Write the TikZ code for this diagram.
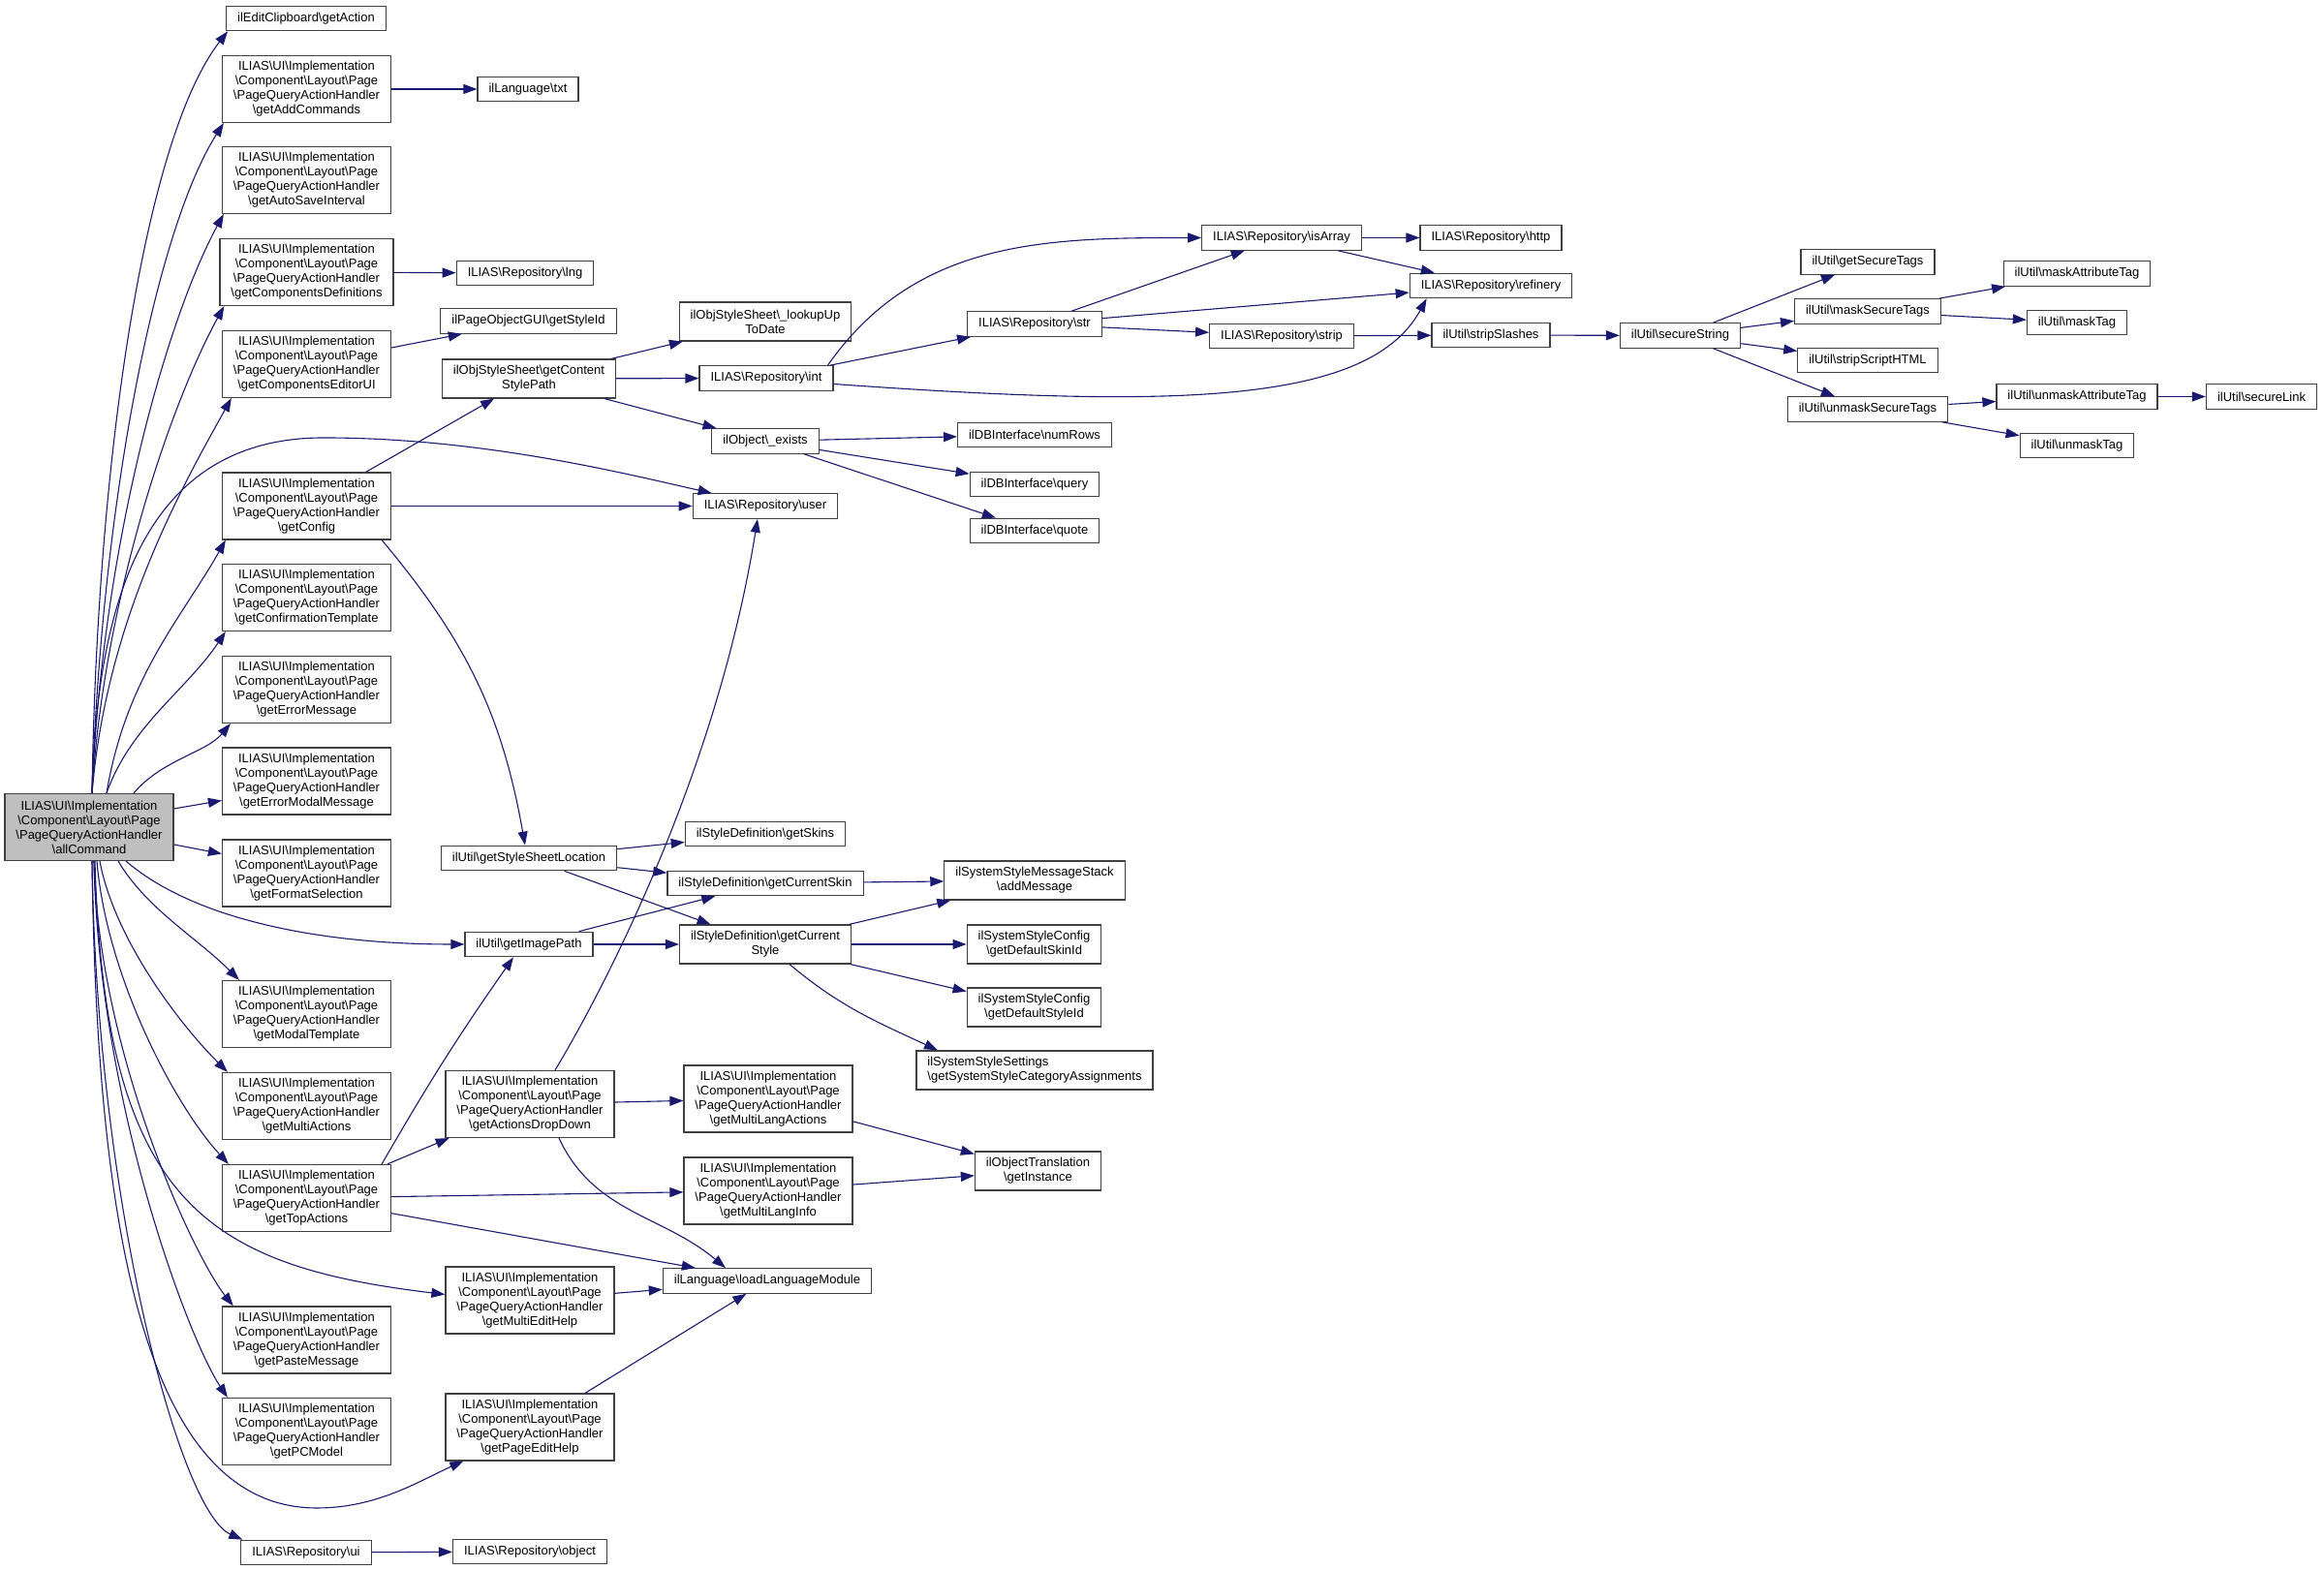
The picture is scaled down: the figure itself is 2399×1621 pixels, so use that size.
\documentclass[tikz,border=0pt]{standalone}
\usepackage{fontspec}
\usepackage{tikz}
\usetikzlibrary{arrows.meta}
\newfontfamily\graphfont{Liberation Sans}
\definecolor{edgeblue}{HTML}{191970}
\definecolor{boxline}{HTML}{404040}
\definecolor{rootfill}{HTML}{BFBFBF}
\newcommand{\bsl}{\textbackslash}
\newcommand{\pqah}[1]{ILIAS\bsl UI\bsl Implementation\\\bsl Component\bsl Layout\bsl Page\\\bsl PageQueryActionHandler\\\bsl #1}

\begin{document}
\begin{tikzpicture}[
  x=1pt,y=1pt,
  func/.style={draw=boxline,line width=1.2pt,fill=white,align=center,inner xsep=11.5pt,inner ysep=2pt,minimum height=25.5pt,font=\graphfont\fontsize{13}{15}\selectfont},
  func2/.style={func,minimum height=40pt},
  func4/.style={func,minimum height=69pt},
  rootfunc/.style={func4,fill=rootfill},
  call/.style={draw=edgeblue,line width=1.1pt,-{Triangle[length=14pt,width=10pt]}}
]
\path[use as bounding box,fill=white] (0,0) rectangle (2399,1621);

% caller
\node[rootfunc] (root) at (92,767) {\pqah{allCommand}};

% first column
\node[func] (getaction) at (316,1602) {ilEditClipboard\bsl getAction};
\node[func4] (addcmd) at (316.5,1529) {\pqah{getAddCommands}};
\node[func4] (autosave) at (316.5,1435) {\pqah{getAutoSaveInterval}};
\node[func4] (compdef) at (316.5,1340) {\pqah{getComponentsDefinitions}};
\node[func4] (compeditor) at (316.5,1245) {\pqah{getComponentsEditorUI}};
\node[func4] (getconfig) at (316.5,1098.5) {\pqah{getConfig}};
\node[func4] (confirm) at (316.5,1004) {\pqah{getConfirmationTemplate}};
\node[func4] (errmsg) at (316.5,909) {\pqah{getErrorMessage}};
\node[func4] (errmodal) at (316.5,814.5) {\pqah{getErrorModalMessage}};
\node[func4] (format) at (316.5,719.5) {\pqah{getFormatSelection}};
\node[func4] (modal) at (316.5,574) {\pqah{getModalTemplate}};
\node[func4] (multiact) at (316.5,479) {\pqah{getMultiActions}};
\node[func4] (topact) at (316.5,384) {\pqah{getTopActions}};
\node[func4] (paste) at (316.5,237.5) {\pqah{getPasteMessage}};
\node[func4] (pcmodel) at (316.5,143) {\pqah{getPCModel}};
\node[func] (repoui) at (316,18) {ILIAS\bsl Repository\bsl ui};

% second column
\node[func] (txt) at (545,1529) {ilLanguage\bsl txt};
\node[func] (lng) at (542,1339) {ILIAS\bsl Repository\bsl lng};
\node[func] (styleid) at (545.5,1289.5) {ilPageObjectGUI\bsl getStyleId};
\node[func2] (contentstyle) at (546,1230) {ilObjStyleSheet\bsl getContent\\StylePath};
\node[func] (stylesheetloc) at (546,735) {ilUtil\bsl getStyleSheetLocation};
\node[func] (imagepath) at (546,646) {ilUtil\bsl getImagePath};
\node[func4] (actionsdd) at (547,481) {\pqah{getActionsDropDown}};
\node[func4] (multiedit) at (547,278.5) {\pqah{getMultiEditHelp}};
\node[func4] (pageedit) at (547,147.5) {\pqah{getPageEditHelp}};
\node[func] (repoobject) at (547,19) {ILIAS\bsl Repository\bsl object};

% third column
\node[func2] (lookup) at (790,1289) {ilObjStyleSheet\bsl\_lookupUp\\ToDate};
\node[func] (repoint) at (791,1230.5) {ILIAS\bsl Repository\bsl int};
\node[func] (exists) at (790,1165.5) {ilObject\bsl\_exists};
\node[func] (repouser) at (790,1098.5) {ILIAS\bsl Repository\bsl user};
\node[func] (getskins) at (790,760) {ilStyleDefinition\bsl getSkins};
\node[func] (curskin) at (790,709) {ilStyleDefinition\bsl getCurrentSkin};
\node[func2] (curstyle) at (790,646) {ilStyleDefinition\bsl getCurrent\\Style};
\node[func4] (mlactions) at (793,486.5) {\pqah{getMultiLangActions}};
\node[func4] (mlinfo) at (793,391.5) {\pqah{getMultiLangInfo}};
\node[func] (loadlang) at (792,298.5) {ilLanguage\bsl loadLanguageModule};

% fourth column
\node[func] (repostr) at (1068,1286.5) {ILIAS\bsl Repository\bsl str};
\node[func] (numrows) at (1068,1172) {ilDBInterface\bsl numRows};
\node[func] (query) at (1068,1121) {ilDBInterface\bsl query};
\node[func] (quote) at (1068,1073) {ilDBInterface\bsl quote};
\node[func2] (addmsg) at (1068,712) {ilSystemStyleMessageStack\\\bsl addMessage};
\node[func2] (defskin) at (1067.5,646) {ilSystemStyleConfig\\\bsl getDefaultSkinId};
\node[func2] (defstyle) at (1067.5,581) {ilSystemStyleConfig\\\bsl getDefaultStyleId};
\node[func2,align=left] (catassign) at (1068,516) {ilSystemStyleSettings\\\bsl getSystemStyleCategoryAssignments};
\node[func2] (translation) at (1071.5,412) {ilObjectTranslation\\\bsl getInstance};

% right part
\node[func] (isarray) at (1323,1375.5) {ILIAS\bsl Repository\bsl isArray};
\node[func] (strip) at (1323,1274) {ILIAS\bsl Repository\bsl strip};
\node[func] (http) at (1539,1375.5) {ILIAS\bsl Repository\bsl http};
\node[func] (refinery) at (1539,1326) {ILIAS\bsl Repository\bsl refinery};
\node[func] (stripslashes) at (1539,1275) {ilUtil\bsl stripSlashes};
\node[func] (securestring) at (1734.5,1274.5) {ilUtil\bsl secureString};
\node[func] (getsecure) at (1928,1350.5) {ilUtil\bsl getSecureTags};
\node[func] (masksecure) at (1928,1299.5) {ilUtil\bsl maskSecureTags};
\node[func] (stripscript) at (1928,1249) {ilUtil\bsl stripScriptHTML};
\node[func] (unmasksecure) at (1928,1198.5) {ilUtil\bsl unmaskSecureTags};
\node[func] (maskattr) at (2144,1338.5) {ilUtil\bsl maskAttributeTag};
\node[func] (masktag) at (2144,1288) {ilUtil\bsl maskTag};
\node[func] (unmaskattr) at (2144,1211.5) {ilUtil\bsl unmaskAttributeTag};
\node[func] (unmasktag) at (2144,1161) {ilUtil\bsl unmaskTag};
\node[func] (securelink) at (2334.5,1211.5) {ilUtil\bsl secureLink};

% calls of allCommand
\draw[call] ([xshift=3]root.north) .. controls +(5,348) and +(-85,-109) .. ([xshift=2]getaction.south west);
\draw[call] ([xshift=3]root.north) .. controls +(10,300) and +(-70,-110) .. ([xshift=2]addcmd.south west);
\draw[call] ([xshift=3]root.north) .. controls +(10,250) and +(-60,-110) .. ([xshift=2]autosave.south west);
\draw[call] ([xshift=3]root.north) .. controls +(12,200) and +(-55,-100) .. ([xshift=5]compdef.south west);
\draw[call] ([xshift=3]root.north) .. controls +(15,180) and +(-50,-90) .. ([xshift=10]compeditor.south west);
\draw[call] ([xshift=3]root.north) .. controls +(5,200) and +(-184,0) .. (334,1169) .. controls +(166,0) and +(-85,19) .. ([xshift=20]repouser.north west);
\draw[call] ([xshift=18]root.north) .. controls +(20,120) and +(-45,-80) .. ([xshift=4]getconfig.south west);
\draw[call] ([xshift=18]root.north) .. controls +(25,70) and +(-40,-60) .. ([xshift=4]confirm.south west);
\draw[call] ([xshift=46]root.north) .. controls +(30,35) and +(-25,-30) .. ([xshift=9]errmsg.south west);
\draw[call] ([yshift=19]root.east) -- ([yshift=-20]errmodal.west);
\draw[call] ([yshift=-18]root.east) -- ([yshift=20]format.west);
\draw[call] ([xshift=38]root.south) .. controls +(70,-60) and +(-150,0) .. (imagepath.west);
\draw[call] ([xshift=30]root.south) .. controls +(30,-50) and +(-45,45) .. ([xshift=18]modal.north west);
\draw[call] ([xshift=11]root.south) .. controls +(15,-80) and +(-50,50) .. ([xshift=6]multiact.north west);
\draw[call] ([xshift=8]root.south) .. controls +(10,-120) and +(-55,60) .. ([xshift=7]topact.north west);
\draw[call] ([xshift=5]root.south) .. controls +(5,-200) and +(-40,50) .. ([xshift=12]paste.north west);
\draw[call] ([xshift=5]root.south) .. controls +(5,-250) and +(-40,60) .. ([xshift=6]pcmodel.north west);
\draw[call] ([xshift=6]root.south) .. controls +(10,-350) and +(-250,30) .. ([yshift=6]multiedit.west);
\draw[call] ([xshift=3]root.south) .. controls +(5,-382) and +(-177,0) .. (327,64) .. controls +(63,0) and +(-45,-20) .. ([xshift=19]pageedit.south west);
\draw[call] ([xshift=3]root.south) .. controls +(5,-352) and +(-65,29) .. ([xshift=2]repoui.north west);

% further calls
\draw[call] (addcmd) -- (txt);
\draw[call] (compdef) -- (lng);
\draw[call] (compeditor) -- (styleid);
\draw[call] (getconfig) -- (contentstyle);
\draw[call] (getconfig) -- (repouser);
\draw[call] ([xshift=-10]getconfig.south east) to[out=-50,in=100] ([xshift=-4]stylesheetloc.north);
\draw[call] (contentstyle) -- (lookup);
\draw[call] (contentstyle) -- (repoint);
\draw[call] (contentstyle) -- (exists);
\draw[call] ([xshift=-6]repoint.north east) to[out=55,in=180] (isarray.west);
\draw[call] (repoint) -- (repostr);
\draw[call] ([yshift=-6]repoint.east) .. controls +(350,-25) and +(-60,-110) .. ([xshift=18]refinery.south west);
\draw[call] (repostr) -- (isarray);
\draw[call] (repostr) -- (refinery);
\draw[call] (repostr) -- (strip);
\draw[call] (isarray) -- (http);
\draw[call] (isarray) -- (refinery);
\draw[call] (strip) -- (stripslashes);
\draw[call] (stripslashes) -- (securestring);
\draw[call] (securestring) -- (getsecure);
\draw[call] (securestring) -- (masksecure);
\draw[call] (securestring) -- (stripscript);
\draw[call] (securestring) -- (unmasksecure);
\draw[call] (masksecure) -- (maskattr);
\draw[call] (masksecure) -- (masktag);
\draw[call] (unmasksecure) -- (unmaskattr);
\draw[call] (unmasksecure) -- (unmasktag);
\draw[call] (unmaskattr) -- (securelink);
\draw[call] (exists) -- (numrows);
\draw[call] (exists) -- (query);
\draw[call] (exists) -- (quote);
\draw[call] (stylesheetloc) -- (getskins);
\draw[call] (stylesheetloc) -- (curskin);
\draw[call] (stylesheetloc) -- (curstyle);
\draw[call] (imagepath) -- (curskin);
\draw[call] (imagepath) -- (curstyle);
\draw[call] (curskin) -- (addmsg);
\draw[call] (curstyle) -- (addmsg);
\draw[call] (curstyle) -- (defskin);
\draw[call] (curstyle) -- (defstyle);
\draw[call] ([xshift=25]curstyle.south) to[out=-40,in=155] ([xshift=-100]catassign.north);
\draw[call] ([xshift=-10]topact.north east) to[out=60,in=235] ([xshift=-16]imagepath.south);
\draw[call] (topact) -- (actionsdd);
\draw[call] (topact) -- (mlinfo);
\draw[call] (topact) -- (loadlang);
\draw[call] ([xshift=26]actionsdd.north) .. controls +(60,100) and +(-40,-250) .. ([xshift=-8]repouser.south);
\draw[call] (actionsdd) -- (mlactions);
\draw[call] ([xshift=30]actionsdd.south) to[out=-65,in=140] ([xshift=-43]loadlang.north);
\draw[call] (mlactions) -- (translation);
\draw[call] (mlinfo) -- (translation);
\draw[call] (multiedit) -- (loadlang);
\draw[call] (pageedit) -- (loadlang);
\draw[call] (repoui) -- (repoobject);
\end{tikzpicture}
\end{document}
